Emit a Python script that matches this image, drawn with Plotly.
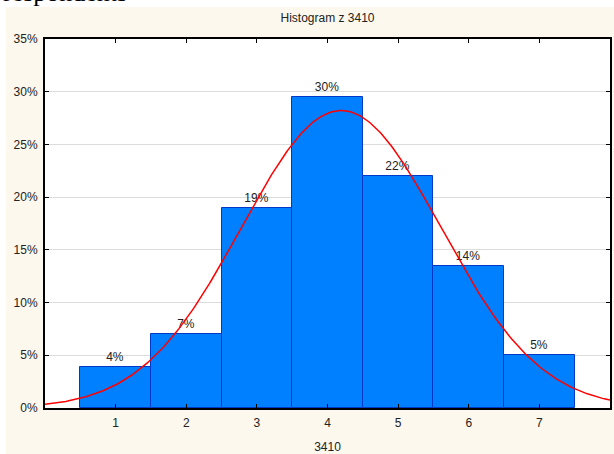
import numpy as np
import plotly.graph_objects as go

# input data (percent of respondents per answer)
categories = [1, 2, 3, 4, 5, 6, 7]
percent = [3.9, 7.0, 19.0, 29.5, 22.0, 13.5, 5.0]
x_ticks = [1, 2, 3, 4, 5, 6, 7]
y_ticks = [0, 5, 10, 15, 20, 25, 30, 35]
y_tick_labels = ["0%", "5%", "10%", "15%", "20%", "25%", "30%", "35%"]

# normal curve fitted to the histogram
cats = np.array(categories, dtype=float)
p = np.array(percent)
mean = (cats * p).sum() / p.sum()
sd = np.sqrt(((cats - mean) ** 2 * p).sum() / p.sum())
xc = np.linspace(0, 8, 300)
yc = p.sum() * np.exp(-0.5 * ((xc - mean) / sd) ** 2) / (sd * np.sqrt(2 * np.pi))

font = "Liberation Sans, Arial, sans-serif"

fig = go.Figure()
fig.add_trace(
    go.Bar(
        x=categories,
        y=percent,
        width=1,
        marker_color="#0080FF",
        marker_line=dict(color="#0038C8", width=1),
        texttemplate="%{y:.0f}%",
        textposition="outside",
        textfont=dict(family=font, size=12, color="#222"),
        cliponaxis=False,
        hoverinfo="skip",
    )
)
fig.add_trace(
    go.Scatter(
        x=xc,
        y=yc,
        mode="lines",
        line=dict(color="#FF0000", width=1.5),
        hoverinfo="skip",
    )
)

# white strips around the cream panel
fig.add_shape(type="rect", xref="paper", yref="paper", x0=-0.1, x1=-0.069, y0=-0.2, y1=1.2,
              fillcolor="white", line_width=0, layer="below")
fig.add_shape(type="rect", xref="paper", yref="paper", x0=-0.1, x1=1.1, y0=1.0867, y1=1.2,
              fillcolor="white", line_width=0, layer="below")

# tail of the document text above the chart (cut off in the original too)
fig.add_annotation(
    text="respondents", xref="paper", yref="paper", x=-0.078, y=1.08,
    xanchor="left", yanchor="bottom", showarrow=False,
    font=dict(family="Liberation Serif, Times New Roman, serif", size=26, color="black"),
)

fig.update_layout(
    width=614,
    height=454,
    margin=dict(l=45, r=4, t=39, b=46, autoexpand=False),
    paper_bgcolor="#FDF8EE",
    plot_bgcolor="white",
    showlegend=False,
    bargap=0,
    font=dict(family=font, size=12, color="#222"),
    title=dict(text="Histogram z 3410", x=0.5, xref="paper", y=0.96, yanchor="middle",
               font=dict(family=font, size=12, color="#222")),
)
fig.update_xaxes(
    range=[0, 8],
    tickvals=x_ticks,
    ticks="inside",
    ticklen=4,
    tickcolor="black",
    ticklabelstandoff=3,
    showline=True,
    linecolor="black",
    linewidth=2,
    mirror="ticks",
    showgrid=False,
    zeroline=False,
    automargin=False,
    title=dict(text="3410", standoff=16, font=dict(size=12)),
)
fig.update_yaxes(
    range=[0, 35],
    tickvals=y_ticks,
    ticktext=y_tick_labels,
    ticks="inside",
    ticklen=4,
    tickcolor="black",
    ticklabelstandoff=3,
    showline=True,
    linecolor="black",
    linewidth=2,
    mirror="ticks",
    showgrid=True,
    gridcolor="#DCDCDC",
    zeroline=False,
    automargin=False,
)

fig.write_html("out.html", config={"displayModeBar": False},
               post_script="document.body.style.margin='0';")
